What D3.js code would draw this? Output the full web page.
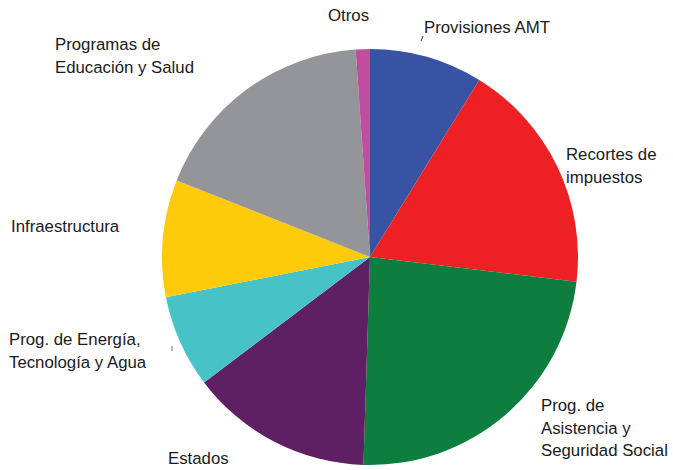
<!DOCTYPE html>
<html>
<head>
<meta charset="utf-8">
<script src="https://cdn.jsdelivr.net/npm/d3@7"></script>
<style>
  body { margin: 0; background: #fff; }
  text { font-family: "Liberation Sans", Arial, sans-serif; font-size: 16.8px; fill: #1a1a1a; }
</style>
</head>
<body>
<div id="chart"></div>
<script>
var svgWidth = 673;
var svgHeight = 470;

// slices, clockwise from 12 o'clock
var categories = ["Provisiones AMT", "Recortes de impuestos", "Prog. de Asistencia y Seguridad Social",
  "Estados", "Prog. de Energía, Tecnología y Agua", "Infraestructura",
  "Programas de Educación y Salud", "Otros"];
var values = [8.8, 18.1, 23.6, 14.2, 7.2, 9.1, 17.9, 1.1];
var colors = ["#3953a4", "#ed2024", "#0e7e3e", "#5f1f63", "#47c2c6", "#fdcb0a", "#939598", "#c04d9f"];

// label lines as printed
var labelLines = [
  ["Provisiones AMT"],
  ["Recortes de", "impuestos"],
  ["Prog. de", "Asistencia y", "Seguridad Social"],
  ["Estados"],
  ["Prog. de Energía,", "Tecnología y Agua"],
  ["Infraestructura"],
  ["Programas de", "Educación y Salud"],
  ["Otros"]
];
var labelPos = [[424, 33], [566, 160], [541, 411], [168, 464], [9, 345], [11, 232], [55, 50], [328, 21]];

var cx = 370, cy = 257, radius = 208;

var svg = d3.select("#chart")
  .append("svg")
  .attr("width", svgWidth)
  .attr("height", svgHeight);

var pie = d3.pie().sort(null).value(d => d);
var arc = d3.arc().innerRadius(0).outerRadius(radius);

var pieGroup = svg.append("g")
  .attr("transform", `translate(${cx}, ${cy})`);

pieGroup.selectAll("path")
  .data(pie(values))
  .enter()
  .append("path")
  .attr("d", arc)
  .attr("fill", (d, i) => colors[i]);

// labels
var labels = svg.selectAll("text.lbl")
  .data(categories)
  .enter()
  .append("text")
  .attr("class", "lbl")
  .attr("x", (d, i) => labelPos[i][0])
  .attr("y", (d, i) => labelPos[i][1]);

labels.each(function(d, i) {
  var t = d3.select(this);
  labelLines[i].forEach(function(line, j) {
    t.append("tspan")
      .attr("x", labelPos[i][0])
      .attr("dy", j === 0 ? 0 : 22.5)
      .text(line);
  });
});

// leftover bits of leader lines
svg.append("line").attr("x1", 421).attr("y1", 41).attr("x2", 423).attr("y2", 36)
  .attr("stroke", "#333").attr("stroke-width", 1);
svg.append("line").attr("x1", 172).attr("y1", 346).attr("x2", 172).attr("y2", 351)
  .attr("stroke", "#666").attr("stroke-width", 1);
</script>
</body>
</html>
